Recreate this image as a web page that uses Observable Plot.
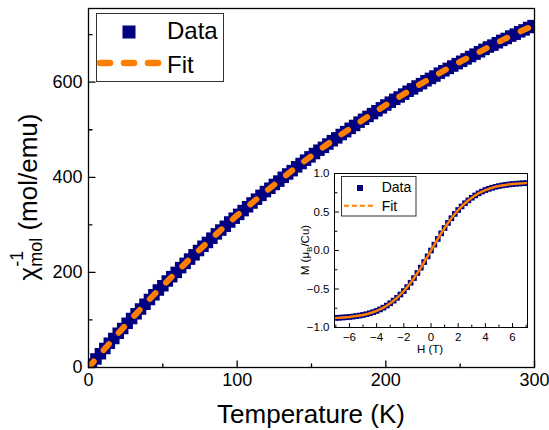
<!DOCTYPE html>
<html><head><meta charset="utf-8">
<script src="https://cdn.jsdelivr.net/npm/d3@7"></script>
<script src="https://cdn.jsdelivr.net/npm/@observablehq/plot@0.6"></script>
<style>
body{margin:0;background:#fff;font-family:"Liberation Sans",Arial,sans-serif;}
#wrap{position:relative;width:549px;height:430px;overflow:hidden;}
#main{position:absolute;left:0;top:0;}
#inset{position:absolute;left:296px;top:166px;}
svg{display:block;}
</style></head><body>
<div id="wrap"><div id="main"></div><div id="inset"></div></div>
<script>
// ---- main panel: inverse susceptibility vs temperature ----
const temperature = [2,5,8,11,14,17,20,23,26,29,32,35,38,41,44,47,50,53,56,59,62,65,68,71,74,77,80,83,86,89,92,95,98,101,104,107,110,113,116,119,122,125,128,131,134,137,140,143,146,149,152,155,158,161,164,167,170,173,176,179,182,185,188,191,194,197,200,203,206,209,212,215,218,221,224,227,230,233,236,239,242,245,248,251,254,257,260,263,266,269,272,275,278,281,284,287,290,293,296,299];
const chiInv = [7,18,29,40,51,61,72,82,93,103,113,123,133,143,153,163,172,182,191,200,210,219,228,237,246,255,263,272,281,289,297,306,314,322,330,338,346,354,362,370,377,385,392,400,407,414,422,429,436,443,450,457,463,470,477,483,490,496,503,509,516,522,528,534,540,546,552,558,564,569,575,581,586,592,597,603,608,613,619,624,629,634,639,644,649,654,659,664,669,674,678,683,688,692,697,701,706,710,715,719];
const fitT = [0,10,20,30,40,50,60,70,80,90,100,110,120,130,140,150,160,170,180,190,200,210,220,230,240,250,260,270,280,290,300];
const fitChiInv = [0,36,72,106,140,172,203,234,263,292,320,346,372,397,422,445,468,490,511,532,552,571,590,608,626,643,659,675,691,706,720];
const xMajor = [0,100,200,300];
const xMinor = [50,150,250];
const yMajor = [0,200,400,600];
const yMinor = [100,300,500,700];

// ---- inset: magnetization vs field ----
const field = [-7,-6.75,-6.5,-6.25,-6,-5.75,-5.5,-5.25,-5,-4.75,-4.5,-4.25,-4,-3.75,-3.5,-3.25,-3,-2.75,-2.5,-2.25,-2,-1.75,-1.5,-1.25,-1,-0.75,-0.5,-0.25,0,0.25,0.5,0.75,1,1.25,1.5,1.75,2,2.25,2.5,2.75,3,3.25,3.5,3.75,4,4.25,4.5,4.75,5,5.25,5.5,5.75,6,6.25,6.5,6.75,7];
const moment = [-0.875,-0.873,-0.870,-0.867,-0.863,-0.858,-0.852,-0.845,-0.837,-0.827,-0.815,-0.801,-0.785,-0.765,-0.742,-0.715,-0.685,-0.651,-0.614,-0.572,-0.526,-0.475,-0.419,-0.358,-0.292,-0.223,-0.150,-0.076,0,0.076,0.150,0.223,0.292,0.358,0.419,0.475,0.526,0.572,0.614,0.651,0.685,0.715,0.742,0.765,0.785,0.801,0.815,0.827,0.837,0.845,0.852,0.858,0.863,0.867,0.870,0.873,0.875];
const fitField = [-7,-6.5,-6,-5.5,-5,-4.5,-4,-3.5,-3,-2.5,-2,-1.5,-1,-0.5,0,0.5,1,1.5,2,2.5,3,3.5,4,4.5,5,5.5,6,6.5,7];
const fitMoment = [-0.875,-0.870,-0.863,-0.852,-0.837,-0.815,-0.785,-0.742,-0.685,-0.614,-0.526,-0.419,-0.292,-0.150,0,0.150,0.292,0.419,0.526,0.614,0.685,0.742,0.785,0.815,0.837,0.852,0.863,0.870,0.875];
const hMajor = [-6,-4,-2,0,2,4,6];
const hMinor = [-7,-5,-3,-1,1,3,5,7];
const mMajor = [-1,-0.5,0,0.5,1];
const mMinor = [-0.75,-0.25,0.25,0.75];

const NAVY = "#000080", ORANGE = "#ff8000";
const FONT = "Liberation Sans, Arial, Helvetica, sans-serif";
const tickShape = {draw(ctx, l) { ctx.moveTo(0, 0); ctx.lineTo(0, -l); }};
const ticksBottom = (vals, len, sw) => Plot.vector(vals, {x: d => d, frameAnchor: "bottom", length: len, rotate: 0, anchor: "start", shape: tickShape, stroke: "#000", strokeWidth: sw});
const ticksLeft = (vals, len, sw) => Plot.vector(vals, {y: d => d, frameAnchor: "left", length: len, rotate: 90, anchor: "start", shape: tickShape, stroke: "#000", strokeWidth: sw});

const mainData = temperature.map((t, i) => ({t, v: chiInv[i]}));
const mainFit = fitT.map((t, i) => ({t, v: fitChiInv[i]}));

const main = Plot.plot({
  width: 549, height: 430,
  marginLeft: 88, marginRight: 15, marginTop: 8, marginBottom: 63,
  x: {domain: [0, 300]},
  y: {domain: [0, 755]},
  style: {fontFamily: FONT, background: "transparent", color: "#000"},
  marks: [
    Plot.dot(mainData, {x: "t", y: "v", symbol: "square", r: 6.5, fill: NAVY, clip: true}),
    Plot.line(mainFit, {x: "t", y: "v", stroke: ORANGE, strokeWidth: 6, strokeDasharray: "8,15", strokeLinecap: "round", clip: true}),
    Plot.frame({stroke: "#000", strokeWidth: 1.3}),
    ticksBottom(xMajor, 6.5, 1.3),
    ticksBottom(xMinor, 3.5, 1.3),
    ticksLeft(yMajor, 6.5, 1.3),
    ticksLeft(yMinor, 3.5, 1.3),
    Plot.axisX(xMajor, {tickSize: 0, tickPadding: 6, fontSize: 18, label: null, fill: "#000"}),
    Plot.axisY(yMajor, {tickSize: 0, tickPadding: 6, fontSize: 18, label: null, fill: "#000"})
  ]
});
document.getElementById("main").appendChild(main);

const ms = d3.select(main);
ms.append("text").attr("x", 311).attr("y", 423).attr("text-anchor", "middle")
  .style("font-size", "26px").style("font-family", FONT).attr("fill", "#000").text("Temperature (K)");
const yt = ms.append("text").attr("transform", "translate(37,197) rotate(-90)").attr("text-anchor", "middle")
  .style("font-size", "26px").style("font-family", FONT).attr("fill", "#000");
yt.append("tspan").text("χ");
yt.append("tspan").attr("dy", -14).style("font-size", "18px").text("-1");
yt.append("tspan").attr("dx", -16).attr("dy", 19).style("font-size", "18px").text("mol");
yt.append("tspan").attr("dy", -5).text(" (mol/emu)");

// main legend
const lg = ms.append("g").attr("text-anchor", "start");
lg.append("rect").attr("x", 96.5).attr("y", 13.5).attr("width", 127).attr("height", 68).attr("fill", "#fff").attr("stroke", "#333").attr("stroke-width", 1);
lg.append("rect").attr("x", 122.5).attr("y", 25.5).attr("width", 13).attr("height", 13).attr("fill", NAVY);
lg.append("path").attr("d", "M100,63H158").attr("stroke", ORANGE).attr("stroke-width", 6.5).attr("stroke-dasharray", "10,14").attr("stroke-linecap", "round").attr("fill", "none");
lg.append("text").attr("x", 167).attr("y", 39).attr("text-anchor", "start").style("font-size", "24px").style("font-family", FONT).text("Data");
lg.append("text").attr("x", 167).attr("y", 73).attr("text-anchor", "start").style("font-size", "24px").style("font-family", FONT).text("Fit");

// ---- inset ----
const insetData = field.map((h, i) => ({h, m: moment[i]}));
const insetFit = fitField.map((h, i) => ({h, m: fitMoment[i]}));
const fmt = d => d.toFixed(1).replace("-", "\u2212");
const fmtH = d => String(d).replace("-", "\u2212");
const inset = Plot.plot({
  width: 238, height: 196,
  marginLeft: 38, marginRight: 7, marginTop: 7, marginBottom: 35,
  x: {domain: [-7.1, 7.1]},
  y: {domain: [-1, 1]},
  style: {fontFamily: FONT, background: "transparent", color: "#000"},
  marks: [
    Plot.frame({fill: "#fff"}),
    Plot.dot(insetData, {x: "h", y: "m", symbol: "square", r: 3.2, fill: NAVY, clip: true}),
    Plot.line(insetFit, {x: "h", y: "m", stroke: ORANGE, strokeWidth: 2.5, curve: "catmull-rom", clip: true}),
    Plot.frame({stroke: "#000", strokeWidth: 1}),
    ticksBottom(hMajor, 4, 1),
    ticksBottom(hMinor, 2.5, 1),
    ticksLeft(mMajor, 4, 1),
    ticksLeft(mMinor, 2.5, 1),
    Plot.axisX(hMajor, {tickSize: 0, tickPadding: 5, fontSize: 11.5, label: null, tickFormat: fmtH, fill: "#000"}),
    Plot.axisY(mMajor, {tickSize: 0, tickPadding: 5, fontSize: 11.5, label: null, tickFormat: fmt, fill: "#000"})
  ]
});
document.getElementById("inset").appendChild(inset);
const is = d3.select(inset);
is.append("text").attr("x", 134).attr("y", 187).attr("text-anchor", "middle")
  .style("font-size", "11.5px").style("font-family", FONT).text("H (T)");
const iyt = is.append("text").attr("transform", "translate(13,84) rotate(-90)").attr("text-anchor", "middle")
  .style("font-size", "11.5px").style("font-family", FONT);
iyt.append("tspan").text("M (μ");
iyt.append("tspan").attr("dy", 3).style("font-size", "8px").text("B");
iyt.append("tspan").attr("dy", -3).text("/Cu)");
const ilg = is.append("g").attr("text-anchor", "start");
ilg.append("rect").attr("x", 45.5).attr("y", 10.5).attr("width", 74.5).attr("height", 39.5).attr("fill", "#fff").attr("stroke", "#333").attr("stroke-width", 1);
ilg.append("rect").attr("x", 61).attr("y", 19).attr("width", 6).attr("height", 6).attr("fill", NAVY);
ilg.append("path").attr("d", "M48,39.7H78").attr("stroke", ORANGE).attr("stroke-width", 2).attr("stroke-dasharray", "5,3").attr("fill", "none");
ilg.append("text").attr("x", 85.7).attr("y", 26.3).attr("text-anchor", "start").style("font-size", "14px").style("font-family", FONT).text("Data");
ilg.append("text").attr("x", 85.7).attr("y", 45).attr("text-anchor", "start").style("font-size", "14px").style("font-family", FONT).text("Fit");
</script>
</body></html>
